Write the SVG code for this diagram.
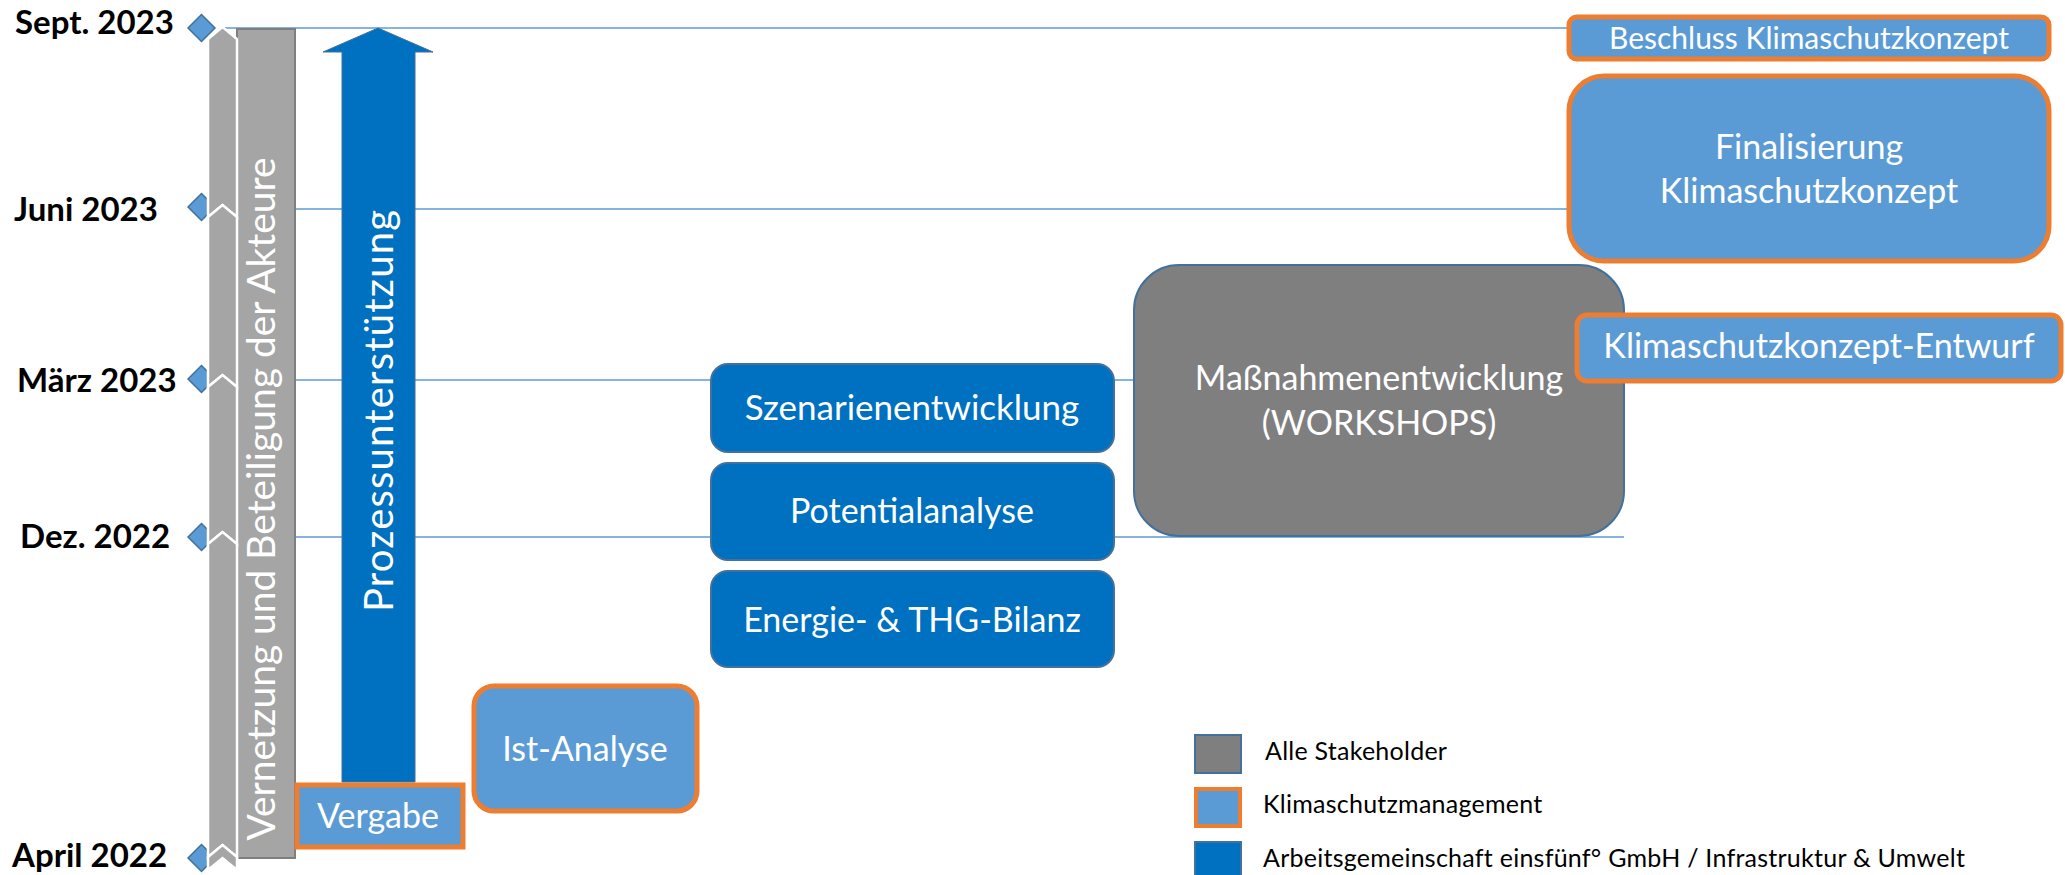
<svg xmlns="http://www.w3.org/2000/svg" width="2065" height="875" viewBox="0 0 2065 875">
  <style>
    .date { font-family: Lato, "Liberation Sans", sans-serif; font-weight: 700; font-size: 33px; fill: #000; }
    .lbl { font-family: Lato, "Liberation Sans", sans-serif; font-size: 34px; fill: #fff; text-anchor: middle; }
    .leg { font-family: Lato, "Liberation Sans", sans-serif; font-size: 25px; letter-spacing: 0.25px; fill: #000; }
    .grid { stroke: #5B9BD5; stroke-width: 1.5; fill: none; }
    .dia { fill: #5B9BD5; stroke: #41719C; stroke-width: 1.5; }
    .chev { fill: #A5A5A5; stroke: #fff; stroke-width: 2.5; }
    .km { fill: #5B9BD5; stroke: #ED7D31; stroke-width: 5; }
    .ag { fill: #0070C0; stroke: #41719C; stroke-width: 2; }
    .all { fill: #7F7F7F; stroke: #41719C; stroke-width: 2; }
  </style>

  <!-- timeline grid lines -->
  <g id="connectors">
    <line class="grid" x1="225" y1="28" x2="1567" y2="28"/>
    <line class="grid" x1="225" y1="209" x2="1567" y2="209"/>
    <line class="grid" x1="225" y1="380" x2="1580" y2="380"/>
    <line class="grid" x1="225" y1="537" x2="1624" y2="537"/>
  </g>

  <!-- date labels and milestones -->
  <g id="dates">
    <text class="date" x="15" y="34">Sept. 2023</text>
    <text class="date" x="14" y="221">Juni 2023</text>
    <text class="date" x="17" y="392">März 2023</text>
    <text class="date" x="20" y="548">Dez. 2022</text>
    <text class="date" x="12" y="867">April 2022</text>
    <polygon class="dia" points="188,28 201.5,14.5 215,28 201.5,41.5"/>
    <polygon class="dia" points="188,207 201.5,193.5 215,207 201.5,220.5"/>
    <polygon class="dia" points="188,379 201.5,365.5 215,379 201.5,392.5"/>
    <polygon class="dia" points="188,537 201.5,523.5 215,537 201.5,550.5"/>
    <polygon class="dia" points="188,858 201.5,844.5 215,858 201.5,871.5"/>
  </g>

  <!-- chevron strip and stakeholder bar -->
  <g id="vernetzung">
    <rect x="237" y="29" width="58" height="829" fill="#A5A5A5" stroke="#7F7F7F" stroke-width="2"/>
    <polygon class="chev" points="208,39 222.5,27 237,39 237,217 222.5,205 208,217"/>
    <polygon class="chev" points="208,217 222.5,205 237,217 237,387 222.5,375 208,387"/>
    <polygon class="chev" points="208,387 222.5,375 237,387 237,544 222.5,532 208,544"/>
    <polygon class="chev" points="208,544 222.5,532 237,544 237,857 222.5,845 208,857"/>
    <polygon class="chev" points="208,857 222.5,845 237,857 237,870 222.5,858 208,870"/>
    <text class="lbl" style="font-size:39px" textLength="683" lengthAdjust="spacing" transform="translate(275,499) rotate(-90)">Vernetzung und Beteiligung der Akteure</text>
  </g>

  <g id="prozess">
    <polygon points="342,782 342,52 323,52 378,28 433,52 415,52 415,782" fill="#0070C0" stroke="#41719C" stroke-width="1"/>
    <text class="lbl" style="font-size:40px" textLength="402" lengthAdjust="spacing" transform="translate(393,411) rotate(-90)">Prozessunterstützung</text>
  </g>

  <g id="vergabe">
    <rect class="km" x="297" y="785" width="166" height="62"/>
    <text class="lbl" x="378" y="828">Vergabe</text>
  </g>

  <g id="ist-analyse">
    <rect class="km" x="474" y="686" width="223" height="125" rx="20"/>
    <text class="lbl" x="585" y="761">Ist-Analyse</text>
  </g>

  <g id="szenarien">
    <rect class="ag" x="711" y="364" width="403" height="88" rx="17"/>
    <text class="lbl" style="font-size:35px" x="912" y="420">Szenarienentwicklung</text>
  </g>

  <g id="potential">
    <rect class="ag" x="711" y="463" width="403" height="97" rx="17"/>
    <text class="lbl" x="912" y="523">Potentialanalyse</text>
  </g>

  <g id="bilanz">
    <rect class="ag" x="711" y="571" width="403" height="96" rx="17"/>
    <text class="lbl" x="912" y="632">Energie- &amp; THG-Bilanz</text>
  </g>

  <g id="massnahmen">
    <rect class="all" x="1134" y="265" width="490" height="271" rx="45"/>
    <text class="lbl" x="1379" y="390">Maßnahmenentwicklung</text>
    <text class="lbl" x="1379" y="435">(WORKSHOPS)</text>
  </g>

  <g id="entwurf">
    <rect class="km" x="1577" y="315" width="484" height="66" rx="10"/>
    <text class="lbl" x="1819" y="358">Klimaschutzkonzept-Entwurf</text>
  </g>

  <g id="finalisierung">
    <rect class="km" x="1569" y="76" width="480" height="185" rx="35"/>
    <text class="lbl" x="1809" y="159">Finalisierung</text>
    <text class="lbl" x="1809" y="203">Klimaschutzkonzept</text>
  </g>

  <g id="beschluss">
    <rect class="km" x="1569" y="17" width="480" height="42" rx="8"/>
    <text class="lbl" style="font-size:30px" x="1809" y="49">Beschluss Klimaschutzkonzept</text>
  </g>

  <!-- legend -->
  <g id="legend">
    <rect class="all" x="1195" y="735" width="46" height="38"/>
    <rect x="1196" y="789" width="44" height="37" fill="#5B9BD5" stroke="#ED7D31" stroke-width="4"/>
    <rect class="ag" x="1195" y="842" width="46" height="40"/>
    <text class="leg" x="1265" y="760">Alle Stakeholder</text>
    <text class="leg" x="1263" y="813">Klimaschutzmanagement</text>
    <text class="leg" x="1263" y="867">Arbeitsgemeinschaft einsfünf° GmbH / Infrastruktur &amp; Umwelt</text>
  </g>
</svg>
